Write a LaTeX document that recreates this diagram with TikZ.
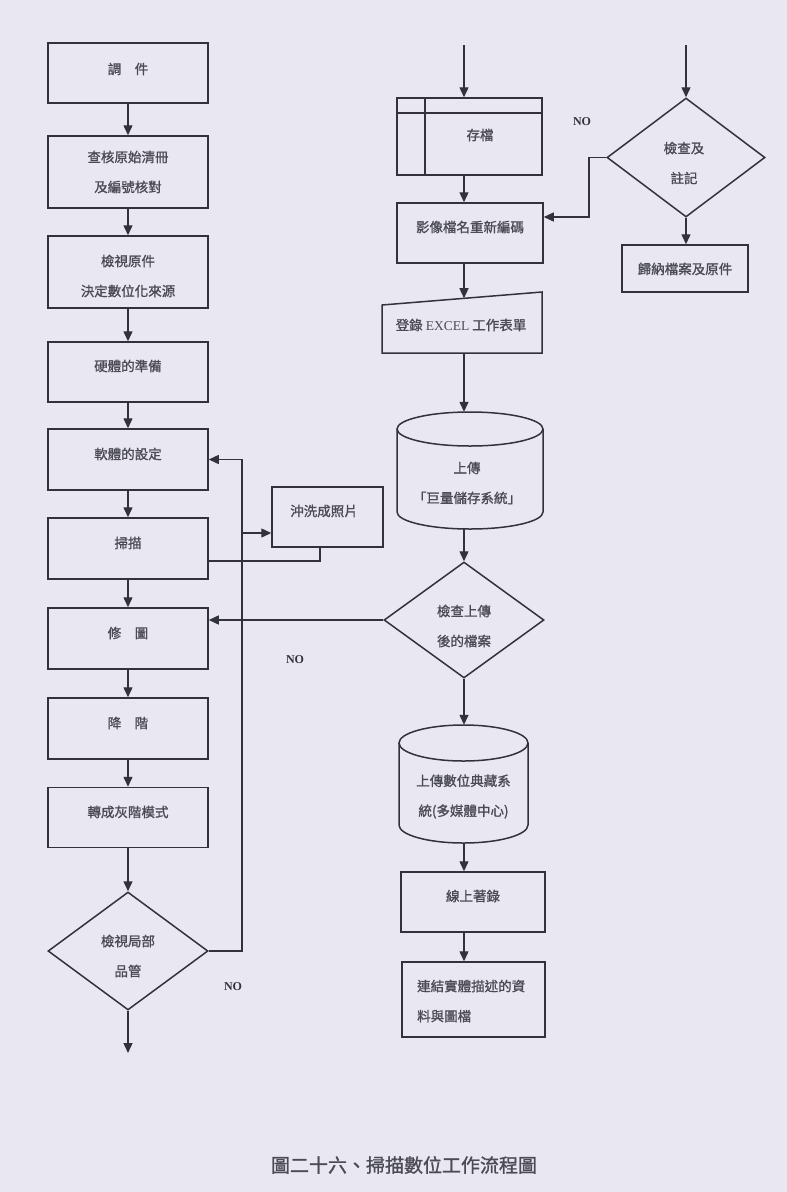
\documentclass[tikz,border=0pt]{standalone}
\usepackage{fontspec}
\setmainfont{Liberation Serif}
\newfontfamily\cjk[FakeBold=1.2]{Noto Sans CJK TC}
\usetikzlibrary{shapes.geometric,arrows.meta}
\definecolor{paper}{RGB}{233,232,242}
\definecolor{ink}{RGB}{50,50,60}
\definecolor{txt}{RGB}{75,75,85}
\tikzset{
  box/.style={draw=ink,line width=1.5pt,rectangle,inner sep=0pt},
  dia/.style={draw=ink,line width=1.5pt,diamond,inner sep=0pt},
  lbl/.style={text=txt,font=\cjk\fontsize{13.5}{30}\selectfont,align=center,inner sep=0pt},
  nolbl/.style={text=ink,font=\fontsize{12}{14}\selectfont\bfseries,inner sep=0pt},
  arr/.style={draw=ink,line width=1.4pt,-{Triangle[length=10pt,width=9pt]}},
  ln/.style={draw=ink,line width=1.4pt},
}
\begin{document}
\begin{tikzpicture}[x=1pt,y=-1pt]
\fill[paper] (0,0) rectangle (787,1192);
\useasboundingbox (0,0) rectangle (787,1192);

% ---------- left column ----------
\node[box,minimum width=160pt,minimum height=60pt] (b1) at (128,73) {};
\node[lbl] at (128,69) {調　件};
\node[box,minimum width=160pt,minimum height=72pt] (b2) at (128,172) {};
\node[lbl] at (128,172) {查核原始清冊\\及編號核對};
\node[box,minimum width=160pt,minimum height=72pt] (b3) at (128,272) {};
\node[lbl] at (128,276) {檢視原件\\決定數位化來源};
\node[box,minimum width=160pt,minimum height=60pt] (b4) at (128,372) {};
\node[lbl] at (128,366) {硬體的準備};
\node[box,minimum width=160pt,minimum height=61pt] (b5) at (128,459.5) {};
\node[lbl] at (128,454) {軟體的設定};
\node[box,minimum width=160pt,minimum height=61pt] (b6) at (128,548.5) {};
\node[lbl] at (128,543) {掃描};
\node[box,minimum width=160pt,minimum height=61pt] (b7) at (128,638.5) {};
\node[lbl] at (128,633) {修　圖};
\node[box,minimum width=160pt,minimum height=61pt] (b8) at (128,728.5) {};
\node[lbl] at (128,723) {降　階};
\node[box,minimum width=160pt,minimum height=60pt] (b9) at (128,817.5) {};
\node[lbl] at (128,812) {轉成灰階模式};
\node[dia,minimum width=160pt,minimum height=118pt] (d1) at (128,951) {};
\node[lbl] at (128,956) {檢視局部\\品管};
\coordinate (out1) at (128,1053);

\node[box,minimum width=111pt,minimum height=60pt] (s7) at (327.5,517) {};
\node[lbl] at (324,511) {沖洗成照片};

\draw[arr] (b1) -- (b2);
\draw[arr] (b2) -- (b3);
\draw[arr] (b3) -- (b4);
\draw[arr] (b4) -- (b5);
\draw[arr] (b5) -- (b6);
\draw[arr] (b6) -- (b7);
\draw[arr] (b7) -- (b8);
\draw[arr] (b8) -- (b9);
\draw[arr] (b9) -- (d1);
\draw[arr] (d1.south) -- (out1);

\coordinate (lp) at (242,951);
\draw[arr] (d1.east) -- (lp) |- (b5.east);
\coordinate (br) at (242,533);
\draw[arr] (br) -- (br -| s7.west);
\coordinate (rt) at (320,561);
\draw[ln] (s7.south -| rt) -- (rt) -- (rt -| b6.east);

% ---------- right column ----------
\coordinate (sp) at (464,0);
\coordinate (t1) at (464,45);
\coordinate (t2) at (686,45);

\node[box,minimum width=145pt,minimum height=77pt] (s1) at (469.5,136.5) {};
\draw[ln] (397,113) -- (542,113);
\draw[ln] (425,98) -- (425,175);
\node[lbl] at (480,135) {存檔};

\node[box,minimum width=146pt,minimum height=60pt] (s2) at (470,233) {};
\node[lbl] at (470,227) {影像檔名重新編碼};

\coordinate (e1) at (382,305);
\coordinate (e2) at (542,292);
\coordinate (e3) at (542,353);
\coordinate (e4) at (382,353);
\draw[ln,line width=1.5pt] (e1) -- (e2) -- (e3) -- (e4) -- cycle;
\node[lbl] (s3) at (461,325) {登錄 {\rmfamily\fontsize{13.5}{14}\selectfont EXCEL} 工作表單};
\coordinate (s3top) at (464,298.2);

% cylinder 1
\node[minimum width=146pt,minimum height=117pt,inner sep=0pt] (c1) at (470,470.5) {};
\draw[ln,line width=1.5pt] (470,429) ellipse [x radius=73,y radius=17];
\draw[ln,line width=1.5pt] (397,429) -- (397,512) arc[start angle=180,end angle=0,x radius=73,y radius=17] -- (543,429);
\node[lbl] at (467,483) {上傳\\「巨量儲存系統」};

\node[dia,minimum width=160pt,minimum height=116pt] (d2) at (464,620) {};
\node[lbl] at (464,626) {檢查上傳\\後的檔案};

% cylinder 2
\node[minimum width=129pt,minimum height=118pt,inner sep=0pt] (c2) at (463.5,784) {};
\draw[ln,line width=1.5pt] (463.5,743) ellipse [x radius=64.5,y radius=18];
\draw[ln,line width=1.5pt] (399,743) -- (399,825) arc[start angle=180,end angle=0,x radius=64.5,y radius=18] -- (528,743);
\node[lbl] at (463.5,796.5) {上傳數位典藏系\\統(多媒體中心)};

\node[box,minimum width=144pt,minimum height=60pt] (s4) at (473,902) {};
\node[lbl] at (473,896) {線上著錄};

\node[box,minimum width=143pt,minimum height=75pt] (s5) at (473.5,999.5) {};
\node[lbl,align=left,anchor=west] at (417,1001) {連結實體描述的資\\料與圖檔};

\node[dia,minimum width=158pt,minimum height=119pt] (d3) at (686,157.5) {};
\node[lbl] at (684,163) {檢查及\\註記};
\node[box,minimum width=126pt,minimum height=47pt] (s6) at (685,268.5) {};
\node[lbl] at (685,269) {歸納檔案及原件};

\draw[arr] (t1) -- (t1 |- s1.north);
\draw[arr] (t2) -- (d3.north);
\draw[arr] (s1.south -| sp) -- (s2.north -| sp);
\draw[arr] (s2.south -| sp) -- (s3top);
\draw[arr] (e4 -| sp) -- (c1.north -| sp);
\draw[arr] (c1.south -| sp) -- (d2.north);
\draw[arr] (d2.south) -- (c2.north -| d2.south);
\draw[arr] (c2.south -| sp) -- (s4.north -| sp);
\draw[arr] (s4.south -| sp) -- (s5.north -| sp);
\draw[arr] (d2.west) -- (d2.west -| b7.east);
\draw[arr] (d3.south) -- (s6.north -| d3.south);
\coordinate (k1) at (589,217);
\draw[arr] (d3.west) -| (k1) -- (k1 -| s2.east);

% labels
\node[nolbl] at (582,122) {NO};
\node[nolbl] at (295,660) {NO};
\node[nolbl] at (233,987) {NO};

\node[text=txt,font=\cjk\fontsize{19}{22}\selectfont,inner sep=0pt] (cap) at (404,1165) {圖二十六、掃描數位工作流程圖};
\end{tikzpicture}
\end{document}
